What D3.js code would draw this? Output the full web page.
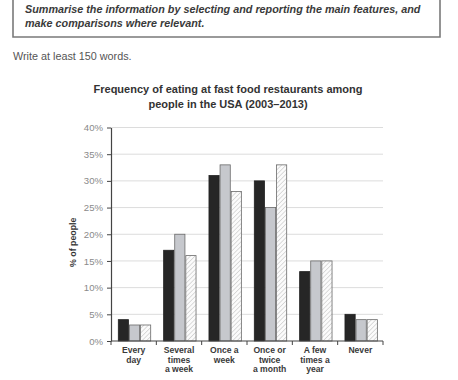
<!DOCTYPE html>
<html>
<head>
<meta charset="utf-8">
<script src="https://cdn.jsdelivr.net/npm/d3@7"></script>
<style>
  body { margin: 0; background: #fff; }
  svg { display: block; font-family: "Liberation Sans", Arial, sans-serif; }
  .grid line { stroke: #dcdcdc; stroke-width: 1; }
  .axis path, .axis line { stroke: #444; }
  .axis text { fill: #8a8a8a; }
</style>
</head>
<body>
<div id="chart"></div>
<script>
// data
var categories = ["Every day", "Several times a week", "Once a week", "Once or twice a month", "A few times a year", "Never"]
var categoryLines = [["Every", "day"], ["Several", "times", "a week"], ["Once a", "week"], ["Once or", "twice", "a month"], ["A few", "times a", "year"], ["Never"]]
var series = ["2003", "2006", "2013"]
var values2003 = [4, 17, 31, 30, 13, 5]
var values2006 = [3, 20, 33, 25, 15, 4]
var values2013 = [3, 16, 28, 33, 15, 4]
var yTicks = [0, 5, 10, 15, 20, 25, 30, 35, 40]

var W = 458, H = 380

var svg = d3.select("#chart")
    .append("svg")
        .attr("width", W)
        .attr("height", H)

// hatch pattern for last series
var defs = svg.append("defs")
var pat = defs.append("pattern")
    .attr("id", "hatch")
    .attr("patternUnits", "userSpaceOnUse")
    .attr("width", 3.2)
    .attr("height", 3.2)
    .attr("patternTransform", "rotate(45)")
pat.append("rect").attr("width", 3.2).attr("height", 3.2).attr("fill", "#fbfbfb")
pat.append("line")
    .attr("x1", 0).attr("y1", 0).attr("x2", 0).attr("y2", 3.2)
    .attr("stroke", "#bcbcbc").attr("stroke-width", 1)

// instruction box
svg.append("path")
    .attr("d", "M13,-2 L13,37 L440,37 L440,-2")
    .attr("fill", "none")
    .attr("stroke", "#7a7a7a")
    .attr("stroke-width", 1.6)

svg.append("text")
    .attr("x", 25).attr("y", 13)
    .attr("font-size", 10.8).attr("font-weight", "bold").attr("font-style", "italic")
    .attr("fill", "#3a3a3a")
    .text("Summarise the information by selecting and reporting the main features, and")
svg.append("text")
    .attr("x", 25).attr("y", 26.5)
    .attr("font-size", 10.8).attr("font-weight", "bold").attr("font-style", "italic")
    .attr("fill", "#3a3a3a")
    .text("make comparisons where relevant.")

svg.append("text")
    .attr("x", 13).attr("y", 60)
    .attr("font-size", 10.8)
    .attr("fill", "#555")
    .text("Write at least 150 words.")

// chart title
var title = svg.append("text")
    .attr("text-anchor", "middle")
    .attr("font-size", 11).attr("font-weight", "bold")
    .attr("fill", "#333")
title.append("tspan").attr("x", 228).attr("y", 93).text("Frequency of eating at fast food restaurants among")
title.append("tspan").attr("x", 228).attr("y", 107.5).text("people in the USA (2003\u20132013)")

// scales
var x0 = d3.scaleBand()
    .domain(categories)
    .range([111, 383])

var x1 = d3.scaleBand()
    .domain(series)
    .range([7.3, 39.7])
    .paddingInner(0.08)

var y = d3.scaleLinear()
    .domain([0, 40])
    .range([341, 127.5])

// gridlines
svg.append("g")
    .attr("class", "grid")
    .selectAll("line")
    .data(yTicks.slice(1))
    .enter()
    .append("line")
        .attr("x1", 111)
        .attr("x2", 383)
        .attr("y1", d => y(d))
        .attr("y2", d => y(d))

// y axis
var yAxis = svg.append("g")
    .attr("class", "axis")
    .attr("transform", "translate(111,0)")
    .call(d3.axisLeft(y).tickValues(yTicks).tickFormat(d => d + "%").tickSize(4).tickSizeOuter(0))
yAxis.selectAll("text").attr("font-size", 9.6).attr("dx", -1)
yAxis.select(".domain").attr("stroke-width", 1.2)

svg.append("text")
    .attr("transform", "translate(76," + y(18.5) + ") rotate(-90)")
    .attr("text-anchor", "middle")
    .attr("font-size", 8.8).attr("font-weight", "bold")
    .attr("fill", "#333")
    .text("% of people")

// bars
var fills = ["#262626", "#c6c8cd", "url(#hatch)"]
var table = categories.map((c, i) => ({
    cat: c,
    vals: [values2003[i], values2006[i], values2013[i]]
}))

var groups = svg.append("g")
    .selectAll("g")
    .data(table)
    .enter()
    .append("g")
        .attr("transform", d => "translate(" + x0(d.cat) + ",0)")

groups.selectAll("rect")
    .data(d => d.vals.map((v, j) => ({ key: series[j], v: v, j: j })))
    .enter()
    .append("rect")
        .attr("x", d => x1(d.key))
        .attr("y", d => y(d.v))
        .attr("width", x1.bandwidth())
        .attr("height", d => y(0) - y(d.v))
        .attr("fill", d => fills[d.j])
        .attr("stroke", d => d.j == 0 ? "#222" : "#6a6a6a")
        .attr("stroke-width", 0.8)

// x axis with ticks at category boundaries
var xAxis = svg.append("g").attr("class", "axis")
xAxis.append("line")
    .attr("x1", 111).attr("x2", 383)
    .attr("y1", 341).attr("y2", 341)
    .attr("stroke-width", 1.2)
var bounds = categories.map(c => x0(c)).concat([x0.range()[1]])
xAxis.selectAll(".tk")
    .data(bounds)
    .enter()
    .append("line")
        .attr("class", "tk")
        .attr("x1", d => d).attr("x2", d => d)
        .attr("y1", 341).attr("y2", 345)

var labels = svg.append("g")
    .selectAll("text")
    .data(categories)
    .enter()
    .append("text")
        .attr("text-anchor", "middle")
        .attr("font-size", 8.6).attr("font-weight", "bold")
        .attr("fill", "#3a3a3a")
labels.each(function(d, i){
    var t = d3.select(this)
    categoryLines[i].forEach(function(line, k){
        t.append("tspan")
            .attr("x", x0(d) + x0.bandwidth() / 2)
            .attr("y", 353 + k * 9.6)
            .text(line)
    })
})
</script>
</body>
</html>
